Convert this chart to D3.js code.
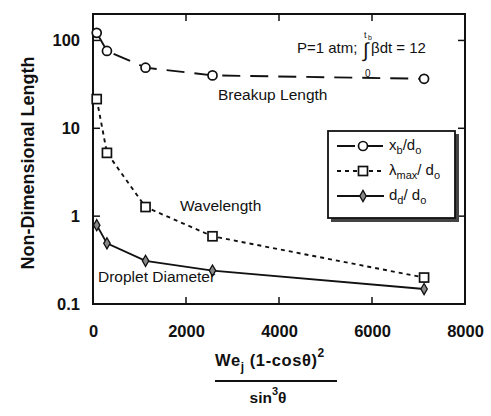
<!DOCTYPE html>
<html>
<head>
<meta charset="utf-8">
<script src="https://cdn.jsdelivr.net/npm/d3@7"></script>
<style>
  body { margin: 0; background: #fff; }
  text { font-family: "Liberation Sans", Arial, sans-serif; fill: #111; }
</style>
</head>
<body>
<svg id="chart" width="491" height="416"></svg>
<script>
let weParam = [80, 300, 1130, 2570, 7120];
let breakupLength = [122, 76, 49, 40, 36.6];
let wavelength = [21.5, 5.25, 1.27, 0.59, 0.2];
let dropletDiameter = [0.79, 0.49, 0.31, 0.24, 0.148];
let xTicks = [0, 2000, 4000, 6000, 8000];
let yTicks = [0.1, 1, 10, 100];

let svg = d3.select("#chart");
let margin = {top: 14, right: 26, bottom: 112, left: 93};
let width = +svg.attr("width") - margin.left - margin.right;
let height = +svg.attr("height") - margin.top - margin.bottom;
let g = svg.append("g").attr("transform", "translate(" + margin.left + "," + margin.top + ")");

let x = d3.scaleLinear().domain([0, 8000]).range([0, width]);
let y = d3.scaleLog().domain([0.1, 200]).range([height, 0]);

// frame
g.append("rect").attr("width", width).attr("height", height)
    .attr("fill", "none").attr("stroke", "#111").attr("stroke-width", 2);

// bottom / left axes with labels
let xAxis = g.append("g").attr("transform", "translate(0," + height + ")")
    .call(d3.axisBottom(x).tickValues(xTicks).tickSize(0).tickPadding(21).tickFormat(d3.format("d")));
let yAxis = g.append("g")
    .call(d3.axisLeft(y).tickValues(yTicks).tickSize(0).tickPadding(13).tickFormat(d => d < 1 ? "0.1" : d3.format("d")(d)));
[xAxis, yAxis].forEach(a => {
    a.select(".domain").remove();
    a.selectAll("text").attr("font-size", 16.5).attr("font-weight", "bold")
        .attr("font-family", "DejaVu Sans, sans-serif").attr("fill", "#111");
});

// inner ticks
let tk = 7;
[2000, 4000, 6000].forEach(v => {
    g.append("line").attr("x1", x(v)).attr("x2", x(v)).attr("y1", height).attr("y2", height - tk).attr("stroke", "#111").attr("stroke-width", 1.5);
    g.append("line").attr("x1", x(v)).attr("x2", x(v)).attr("y1", 0).attr("y2", tk).attr("stroke", "#111").attr("stroke-width", 1.5);
});
[1, 10, 100].forEach(v => {
    g.append("line").attr("x1", 0).attr("x2", tk).attr("y1", y(v)).attr("y2", y(v)).attr("stroke", "#111").attr("stroke-width", 1.5);
    g.append("line").attr("x1", width).attr("x2", width - tk).attr("y1", y(v)).attr("y2", y(v)).attr("stroke", "#111").attr("stroke-width", 1.5);
});

// series
let series = [
    {vals: breakupLength, dash: "18,10", marker: "circle"},
    {vals: wavelength, dash: "4,4", marker: "square"},
    {vals: dropletDiameter, dash: null, marker: "diamond"}
];
let line = d3.line().x(d => x(d[0])).y(d => y(d[1]));

function drawMarker(sel, type, px, py) {
    if (type === "circle") {
        sel.append("circle").attr("cx", px).attr("cy", py).attr("r", 4.5)
            .attr("fill", "#fff").attr("stroke", "#111").attr("stroke-width", 1.7);
    } else if (type === "square") {
        sel.append("rect").attr("x", px - 4.5).attr("y", py - 4.5).attr("width", 9).attr("height", 9)
            .attr("fill", "#fff").attr("stroke", "#111").attr("stroke-width", 1.7);
    } else {
        sel.append("path").attr("d", d3.symbol(d3.symbolDiamond, 36)())
            .attr("transform", "translate(" + px + "," + py + ")")
            .attr("fill", "#888").attr("stroke", "#111").attr("stroke-width", 1.3);
    }
}

series.forEach(s => {
    let pts = weParam.map((w, i) => [w, s.vals[i]]);
    g.append("path").datum(pts).attr("d", line).attr("fill", "none")
        .attr("stroke", "#111").attr("stroke-width", 1.9)
        .attr("stroke-dasharray", s.dash);
    pts.forEach(p => drawMarker(g, s.marker, x(p[0]), y(p[1])));
});

// curve labels
let lab = g.append("g").attr("font-size", 15.5);
lab.append("text").attr("x", 125).attr("y", 86).text("Breakup Length");
lab.append("text").attr("x", 87).attr("y", 197).text("Wavelength");
lab.append("text").attr("x", 5).attr("y", 268).text("Droplet  Diameter");

// condition annotation
let ann = g.append("g").attr("font-size", 15);
ann.append("text").attr("x", 204).attr("y", 39).text("P=1  atm;");
ann.append("text").attr("x", 270).attr("y", 43).attr("font-size", 20).text("\u222B");
ann.append("text").attr("x", 271).attr("y", 24).attr("font-size", 9).text("t");
ann.append("text").attr("x", 275).attr("y", 26).attr("font-size", 7).text("b");
ann.append("text").attr("x", 272).attr("y", 63).attr("font-size", 10).text("0");
ann.append("text").attr("x", 278).attr("y", 39).text("\u03B2dt = 12");

// legend
let lg = g.append("g").attr("transform", "translate(235,117)");
lg.append("rect").attr("x", 3).attr("y", 3).attr("width", 128).attr("height", 88).attr("fill", "#444");
lg.append("rect").attr("width", 127).attr("height", 87).attr("fill", "#fff").attr("stroke", "#111").attr("stroke-width", 1.8);
let legendLabels = [
    {main: "x", sub: "b", rest: "/d", sub2: "o"},
    {main: "\u03BB", sub: "max", rest: "/ d", sub2: "o"},
    {main: "d", sub: "d", rest: "/ d", sub2: "o"}
];
series.forEach((s, i) => {
    let ly = 15 + i * 25;
    lg.append("line").attr("x1", 9).attr("x2", 56).attr("y1", ly).attr("y2", ly)
        .attr("stroke", "#111").attr("stroke-width", 1.9)
        .attr("stroke-dasharray", s.dash ? s.dash : null);
    drawMarker(lg, s.marker, 35, ly);
    let t = lg.append("text").attr("x", 61).attr("y", ly + 4).attr("font-size", 15);
    t.append("tspan").text(legendLabels[i].main);
    t.append("tspan").attr("dy", 4).attr("font-size", 11).text(legendLabels[i].sub);
    t.append("tspan").attr("dy", -4).text(legendLabels[i].rest);
    t.append("tspan").attr("dy", 4).attr("font-size", 11).text(legendLabels[i].sub2);
});

// y label
svg.append("text").attr("transform", "translate(34," + (margin.top + height / 2 + 4) + ") rotate(-90)")
    .attr("text-anchor", "middle").attr("font-size", 18).attr("font-weight", "bold")
    .text("Non-Dimensional  Length");

// x label as fraction
let xl = svg.append("g").attr("font-weight", "bold");
let num = xl.append("text").attr("x", 215).attr("y", 366).attr("font-size", 16.5)
    .attr("font-family", "DejaVu Sans, sans-serif").attr("letter-spacing", 0.6);
num.append("tspan").text("We");
num.append("tspan").attr("dy", 5).attr("font-size", 12).text("j");
num.append("tspan").attr("dy", -5).text(" (1-cos\u03B8)");
num.append("tspan").attr("dy", -9).attr("font-size", 12).text("2");
xl.append("line").attr("x1", 215).attr("x2", 337).attr("y1", 381).attr("y2", 381).attr("stroke", "#111").attr("stroke-width", 2);
let den = xl.append("text").attr("x", 268).attr("y", 403).attr("font-size", 15.5)
    .attr("text-anchor", "middle").attr("font-family", "DejaVu Sans, sans-serif");
den.append("tspan").text("sin");
den.append("tspan").attr("dy", -8).attr("font-size", 11).text("3");
den.append("tspan").attr("dy", 8).text("\u03B8");
</script>
</body>
</html>
